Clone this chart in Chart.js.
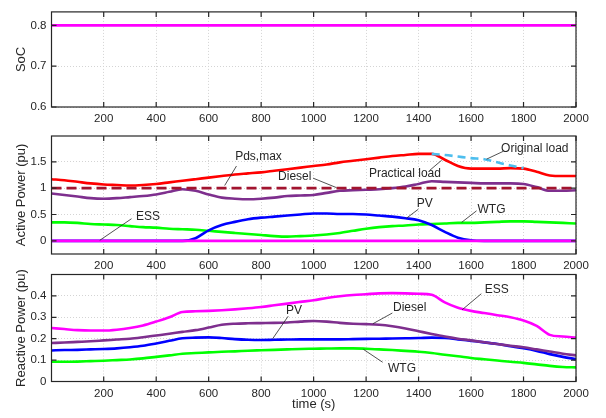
<!DOCTYPE html>
<html>
<head>
<meta charset="utf-8">
<script src="https://cdn.jsdelivr.net/npm/chart.js@4.4.0/dist/chart.umd.min.js"></script>
<style>
html,body{margin:0;padding:0;background:#fff}
#wrap{position:relative;width:606px;height:418px}
#wrap canvas{position:absolute;left:0;top:0}
</style>
</head>
<body>
<div id="wrap">
<canvas id="socChart" width="606" height="418"></canvas>
<canvas id="pChart" width="606" height="418"></canvas>
<canvas id="qChart" width="606" height="418"></canvas>
</div>
<script>
// time axis (s)
const time = [1,50,100,150,200,250,300,350,400,450,500,550,600,650,700,750,800,850,900,950,
1000,1050,1100,1150,1200,1250,1300,1350,1400,1450,1500,1550,1600,1650,1700,1750,1800,1850,1900,1950,2000]
const xTicks = [200,400,600,800,1000,1200,1400,1600,1800,2000]

// SoC
const socTime = [1,2000]
const soc = [0.8,0.8]
const socTicks = [0.6,0.7,0.8]

// active power (pu)
const pTicks = [0,0.5,1,1.5]
const pdsTime = [1,2000]
const pdsMax = [1,1]
const practicalLoad = [1.17,1.15,1.12,1.09,1.07,1.06,1.05,1.06,1.08,1.11,1.14,1.17,1.20,1.23,1.26,1.28,1.30,1.33,1.36,1.39,
1.42,1.45,1.49,1.52,1.55,1.58,1.61,1.63,1.65,1.65,1.54,1.42,1.37,1.37,1.37,1.38,1.37,1.31,1.24,1.23,1.23]
const originalLoad = [null,null,null,null,null,null,null,null,null,null,null,null,null,null,null,null,null,null,null,null,
null,null,null,null,null,null,null,null,null,1.65,1.63,1.60,1.57,1.55,1.49,1.43,1.38,null,null,null,null]
const dieselP = [0.90,0.87,0.84,0.81,0.80,0.81,0.83,0.85,0.88,0.93,0.98,0.95,0.88,0.82,0.80,0.79,0.80,0.82,0.85,0.86,
0.87,0.91,0.95,0.96,0.97,0.98,1.00,1.03,1.08,1.13,1.12,1.11,1.10,1.09,1.09,1.09,1.08,1.02,0.95,0.95,0.96]
const wtgP = [0.35,0.35,0.34,0.32,0.31,0.30,0.28,0.26,0.25,0.23,0.22,0.21,0.19,0.17,0.15,0.13,0.11,0.09,0.08,0.09,
0.10,0.12,0.15,0.19,0.23,0.26,0.28,0.29,0.31,0.32,0.33,0.34,0.34,0.35,0.36,0.37,0.37,0.36,0.35,0.34,0.33]
const pvP = [0,0,0,0,0,0,0,0,0,0,0,0.05,0.20,0.30,0.36,0.41,0.44,0.46,0.48,0.50,
0.52,0.52,0.51,0.51,0.50,0.48,0.46,0.43,0.39,0.30,0.17,0.06,0.01,0,0,0,0,0,0,0,0]
const essP = [0,0,0,0,0,0,0,0,0,0,0,0,0,0,0,0,0,0,0,0,
0,0,0,0,0,0,0,0,0,0,0,0,0,0,0,0,0,0,0,0,0]

// reactive power (pu)
const qTicks = [0,0.1,0.2,0.3,0.4]
const essQ = [0.25,0.245,0.24,0.238,0.238,0.242,0.25,0.262,0.28,0.30,0.325,0.328,0.33,0.333,0.337,0.342,0.348,0.356,0.364,0.372,
0.38,0.39,0.398,0.404,0.408,0.412,0.413,0.412,0.41,0.405,0.37,0.345,0.33,0.32,0.31,0.30,0.285,0.26,0.218,0.21,0.205]
const dieselQ = [0.18,0.182,0.185,0.188,0.192,0.196,0.20,0.207,0.215,0.223,0.232,0.24,0.252,0.265,0.27,0.272,0.273,0.274,0.276,0.28,
0.283,0.28,0.274,0.27,0.268,0.265,0.258,0.248,0.235,0.222,0.21,0.20,0.192,0.183,0.175,0.167,0.16,0.15,0.14,0.13,0.122]
const pvQ = [0.145,0.147,0.148,0.15,0.152,0.155,0.16,0.167,0.178,0.19,0.202,0.205,0.206,0.203,0.198,0.195,0.194,0.195,0.196,0.197,
0.197,0.197,0.197,0.198,0.199,0.2,0.201,0.202,0.203,0.205,0.203,0.197,0.19,0.183,0.175,0.165,0.155,0.143,0.128,0.115,0.105]
const wtgQ = [0.092,0.092,0.093,0.095,0.097,0.1,0.103,0.108,0.115,0.122,0.13,0.133,0.136,0.139,0.141,0.144,0.146,0.148,0.15,0.152,
0.153,0.154,0.155,0.155,0.153,0.15,0.147,0.143,0.139,0.133,0.125,0.118,0.11,0.104,0.098,0.092,0.087,0.08,0.073,0.068,0.066]

// labels with leader lines: text pos, line start, line end (data coords)
const pNotes = [
{text:'Pds,max',tx:790,ty:1.6,x1:706,y1:1.42,x2:661,y2:1.05},
{text:'Diesel',tx:928,ty:1.21,x1:998,y1:1.19,x2:1087,y2:1.01},
{text:'Original load',tx:1843,ty:1.74,x1:1723,y1:1.70,x2:1659,y2:1.55},
{text:'Practical load',tx:1348,ty:1.27,x1:1443,y1:1.34,x2:1488,y2:1.53},
{text:'ESS',tx:369,ty:0.46,x1:306,y1:0.42,x2:185,y2:0.01},
{text:'PV',tx:1424,ty:0.70,x1:1399,y1:0.60,x2:1354,y2:0.43},
{text:'WTG',tx:1678,ty:0.60,x1:1621,y1:0.57,x2:1564,y2:0.35}
]
const qNotes = [
{text:'ESS',tx:1698,ty:0.43,x1:1639,y1:0.41,x2:1566,y2:0.335},
{text:'Diesel',tx:1366,ty:0.343,x1:1300,y1:0.32,x2:1226,y2:0.27},
{text:'PV',tx:925,ty:0.33,x1:903,y1:0.305,x2:844,y2:0.2},
{text:'WTG',tx:1337,ty:0.06,x1:1263,y1:0.09,x2:1190,y2:0.15}
]

Chart.defaults.font.family = '"Liberation Sans", Arial, sans-serif'
Chart.defaults.font.size = 11.5
Chart.defaults.color = '#262626'

const pts = (xs,ys) => xs.map((x,i) => ({x:x,y:ys[i]})).filter(p => p.y !== null)

const frame = {
id:'frame',
afterDatasetsDraw(chart,args,opts){
const ctx = chart.ctx
const a = chart.chartArea
const x = chart.scales.x
const y = chart.scales.y
ctx.save()
ctx.strokeStyle = '#262626'
ctx.lineWidth = 1.2
ctx.beginPath()
x.ticks.forEach(t => {
const px = x.getPixelForValue(t.value)
ctx.moveTo(px,a.bottom); ctx.lineTo(px,a.bottom-5)
ctx.moveTo(px,a.top); ctx.lineTo(px,a.top+5)
})
y.ticks.forEach(t => {
const py = y.getPixelForValue(t.value)
ctx.moveTo(a.left,py); ctx.lineTo(a.left+5,py)
ctx.moveTo(a.right,py); ctx.lineTo(a.right-5,py)
})
ctx.stroke()
ctx.strokeRect(a.left,a.top,a.right-a.left,a.bottom-a.top)
const notes = opts.notes || []
ctx.lineWidth = 0.8
ctx.fillStyle = '#262626'
ctx.font = '12px "Liberation Sans", Arial, sans-serif'
ctx.textAlign = 'center'
ctx.textBaseline = 'middle'
notes.forEach(n => {
ctx.beginPath()
ctx.moveTo(x.getPixelForValue(n.x1),y.getPixelForValue(n.y1))
ctx.lineTo(x.getPixelForValue(n.x2),y.getPixelForValue(n.y2))
ctx.stroke()
ctx.fillText(n.text,x.getPixelForValue(n.tx),y.getPixelForValue(n.ty))
})
ctx.restore()
}
}

function line(label,xs,ys,color,dash){
return {
label:label,
data:pts(xs,ys),
borderColor:color,
borderWidth:2.6,
borderDash:dash || [],
pointRadius:0,
cubicInterpolationMode:'monotone',
fill:false
}
}

function panel(id,datasets,opt){
return new Chart(document.getElementById(id),{
type:'line',
data:{datasets:datasets},
plugins:[frame],
options:{
responsive:false,
animation:false,
events:[],
layout:{padding:{left:0,right:30,top:opt.top,bottom:opt.padBottom}},
plugins:{legend:{display:false},tooltip:{enabled:false},frame:{notes:opt.notes}},
scales:{
x:{
type:'linear',
min:1,
max:2000,
afterBuildTicks:s => { s.ticks = xTicks.map(v => ({value:v})) },
afterFit:s => { s.height = opt.xh },
ticks:{padding:5,maxRotation:0,autoSkip:false,callback:v => String(v)},
grid:{color:'#d4d4d4',lineWidth:1,drawTicks:false},
border:{display:false,dash:[1,2]},
title:{display:!!opt.xTitle,text:opt.xTitle,font:{size:13},padding:{top:0,bottom:6}}
},
y:{
min:opt.ymin,
max:opt.ymax,
afterBuildTicks:s => { s.ticks = opt.yTicks.map(v => ({value:v})) },
afterFit:s => { s.width = 51.5 },
ticks:{padding:5,autoSkip:false,callback:v => String(v)},
grid:{color:'#d4d4d4',lineWidth:1,drawTicks:false},
border:{display:false,dash:[1,2]},
title:{display:true,text:opt.yTitle,font:{size:13},padding:{top:14,bottom:0}}
}
}
}
})
}

panel('socChart',[
line('SoC',socTime,soc,'#ff00ff')
],{top:6,padBottom:291,xh:20,ymin:0.6,ymax:0.833,yTicks:socTicks,yTitle:'SoC'})

panel('pChart',[
line('ESS',time,essP,'#ff00ff'),
line('PV',time,pvP,'#0000ff'),
line('WTG',time,wtgP,'#00ff00'),
line('Original load',time,originalLoad,'#4dbeee',[8,5]),
line('Practical load',time,practicalLoad,'#ff0000'),
line('Pds,max',pdsTime,pdsMax,'#a2142f',[10,5]),
line('Diesel',time,dieselP,'#7e2f8e')
],{top:136,padBottom:144,xh:20,ymin:-0.25,ymax:1.99,yTicks:pTicks,yTitle:'Active Power (pu)',notes:pNotes})

panel('qChart',[
line('ESS',time,essQ,'#ff00ff'),
line('Diesel',time,dieselQ,'#7e2f8e'),
line('PV',time,pvQ,'#0000ff'),
line('WTG',time,wtgQ,'#00ff00')
],{top:274.5,padBottom:0,xh:36.5,ymin:0,ymax:0.5,yTicks:qTicks,yTitle:'Reactive Power (pu)',xTitle:'time (s)',notes:qNotes})
</script>
</body>
</html>
